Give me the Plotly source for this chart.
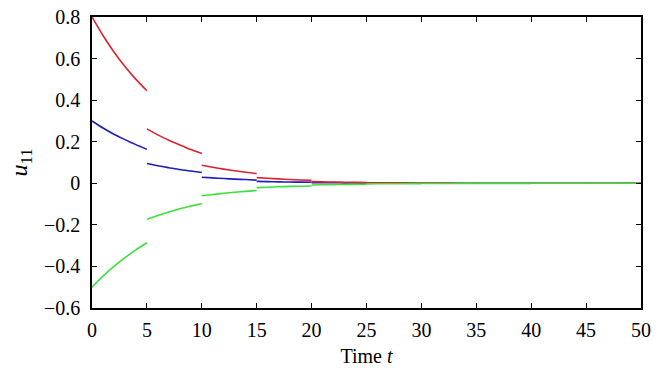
import plotly.graph_objects as go

# Impulse instants (segment starts); each segment sampled at offsets 0..5
segment_starts = [0, 5, 10, 15, 20, 25, 30, 35, 40, 45]
offsets = [0, 1, 2, 3, 4, 5]

red_segments = [
    [0.800, 0.711, 0.632, 0.562, 0.500, 0.445],
    [0.262, 0.233, 0.207, 0.184, 0.162, 0.143],
    [0.087, 0.077, 0.068, 0.060, 0.053, 0.047],
    [0.027, 0.024, 0.021, 0.018, 0.016, 0.014],
    [0.008, 0.007, 0.006, 0.005, 0.0045, 0.004],
    [0.0025, 0.0022, 0.0019, 0.0017, 0.0015, 0.0013],
    [0.0008, 0.0007, 0.0006, 0.0005, 0.0005, 0.0004],
    [0.0002, 0.0002, 0.0002, 0.0002, 0.0001, 0.0001],
    [0.0001, 0.0001, 0.0001, 0.0000, 0.0000, 0.0000],
    [0.0000, 0.0000, 0.0000, 0.0000, 0.0000, 0.0000],
]
blue_segments = [
    [0.300, 0.266, 0.236, 0.210, 0.186, 0.164],
    [0.095, 0.084, 0.075, 0.066, 0.059, 0.052],
    [0.029, 0.026, 0.023, 0.020, 0.018, 0.015],
    [0.009, 0.008, 0.007, 0.006, 0.0055, 0.005],
    [0.003, 0.0027, 0.0024, 0.0021, 0.0018, 0.0016],
    [0.0009, 0.0008, 0.0007, 0.0006, 0.0006, 0.0005],
    [0.0003, 0.0003, 0.0002, 0.0002, 0.0002, 0.0002],
    [0.0001, 0.0001, 0.0001, 0.0001, 0.0001, 0.0000],
    [0.0000, 0.0000, 0.0000, 0.0000, 0.0000, 0.0000],
    [0.0000, 0.0000, 0.0000, 0.0000, 0.0000, 0.0000],
]
green_segments = [
    [-0.500, -0.447, -0.400, -0.358, -0.320, -0.286],
    [-0.173, -0.155, -0.138, -0.123, -0.110, -0.097],
    [-0.060, -0.054, -0.048, -0.043, -0.039, -0.035],
    [-0.021, -0.019, -0.017, -0.015, -0.014, -0.013],
    [-0.008, -0.0072, -0.0064, -0.0057, -0.0051, -0.0046],
    [-0.0028, -0.0025, -0.0022, -0.0020, -0.0018, -0.0016],
    [-0.0010, -0.0009, -0.0008, -0.0007, -0.0006, -0.0006],
    [-0.0003, -0.0003, -0.0003, -0.0002, -0.0002, -0.0002],
    [-0.0001, -0.0001, -0.0001, -0.0001, -0.0001, -0.0001],
    [0.0000, 0.0000, 0.0000, 0.0000, 0.0000, 0.0000],
]

x_ticks = [0, 5, 10, 15, 20, 25, 30, 35, 40, 45, 50]
y_ticks = [-0.6, -0.4, -0.2, 0, 0.2, 0.4, 0.6, 0.8]
y_tick_labels = ["\u22120.6", "\u22120.4", "\u22120.2", "0", "0.2", "0.4", "0.6", "0.8"]


def build(segments):
    xs, ys = [], []
    for s0, vals in zip(segment_starts, segments):
        for o, v in zip(offsets, vals):
            xs.append(s0 + o)
            ys.append(v)
        xs.append(None)
        ys.append(None)
    return xs, ys


fig = go.Figure()
for segs, color in [
    (blue_segments, "rgb(30,30,185)"),
    (red_segments, "rgb(220,35,45)"),
    (green_segments, "rgb(60,225,60)"),
]:
    xs, ys = build(segs)
    fig.add_trace(go.Scatter(x=xs, y=ys, mode="lines",
                             line=dict(color=color, width=1.6, shape="spline", smoothing=0.6),
                             connectgaps=False, showlegend=False, hoverinfo="skip"))

font_family = "Liberation Serif"
fig.update_layout(
    width=666, height=380,
    margin=dict(l=92, r=25, t=17, b=72, autoexpand=False),
    paper_bgcolor="white", plot_bgcolor="white",
    font=dict(family=font_family, size=20, color="black"),
    showlegend=False,
)
fig.update_xaxes(
    range=[0, 50], tickvals=x_ticks, ticktext=[str(v) for v in x_ticks],
    showgrid=False, zeroline=False, showline=True, linecolor="black", linewidth=1.5,
    mirror="ticks", ticks="inside", ticklen=5, tickwidth=1.2, tickcolor="black",
    ticklabelstandoff=3, automargin=False,
    tickfont=dict(family=font_family, size=20, color="black"),
    title=dict(text="Time <i>t</i>", font=dict(size=20, family=font_family), standoff=9),
)
fig.update_yaxes(
    range=[-0.6, 0.8], tickvals=y_ticks, ticktext=y_tick_labels,
    showgrid=False, zeroline=False, showline=True, linecolor="black", linewidth=1.5,
    mirror="ticks", ticks="inside", ticklen=5, tickwidth=1.2, tickcolor="black",
    ticklabelstandoff=6, automargin=False,
    tickfont=dict(family=font_family, size=20, color="black"),
    title=dict(text="<i>u</i><sub>11</sub>", font=dict(size=24, family=font_family), standoff=10),
)

fig.write_html("out.html", config={"displayModeBar": False},
               post_script="document.body.style.margin='0';")
